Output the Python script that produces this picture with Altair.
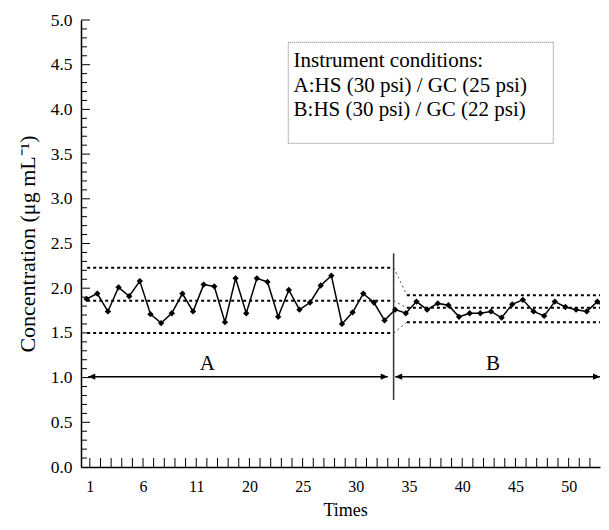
import json
import altair as alt
import pandas as pd

# ---------------- data ----------------
times = list(range(1, 51))
conc_a = [1.88, 1.94, 1.74, 2.01, 1.91, 2.08, 1.71, 1.61, 1.72, 1.94,
          1.74, 2.04, 2.02, 1.62, 2.11, 1.72, 2.11, 2.07, 1.68, 1.98,
          1.76, 1.84, 2.03, 2.14, 1.60, 1.73, 1.94, 1.84, 1.64]
conc_b = [1.76, 1.72, 1.85, 1.76, 1.83, 1.81, 1.68, 1.72, 1.72, 1.74,
          1.67, 1.82, 1.87, 1.74, 1.69, 1.85, 1.79, 1.76, 1.74, 1.85, 1.74]
concentration = conc_a + conc_b

limits_a = [2.23, 1.86, 1.50]   # UCL, CL, LCL for condition A
limits_b = [1.92, 1.78, 1.62]   # UCL, CL, LCL for condition B

x_tick_labels = ["1", "6", "11", "20", "25", "30", "35", "40", "45", "50"]
y_tick_values = [0.0, 0.5, 1.0, 1.5, 2.0, 2.5, 3.0, 3.5, 4.0, 4.5, 5.0]
legend_lines = ["Instrument conditions:",
                "A:HS (30 psi) / GC (25 psi)",
                "B:HS (30 psi) / GC (22 psi)"]
period_labels = ["A", "B"]

# ---------------- layout ----------------
FONT = "Liberation Serif"
W, H = 519, 447
PX_PER_UNIT = 10.64
XD = [0.47, 0.47 + W / PX_PER_UNIT]
xs = alt.Scale(domain=XD, nice=False, zero=False)
ys = alt.Scale(domain=[0, 5], nice=False, zero=False)

TICK_OFF = 0.3
label_pos = [1 + TICK_OFF + 5 * i for i in range(len(x_tick_labels))]
tick_pos = [k + TICK_OFF for k in range(1, 50) if k + TICK_OFF < XD[1]]
label_expr = f"{json.dumps(x_tick_labels)}[round((datum.value - {1 + TICK_OFF}) / 5)]"

x_axis = alt.Axis(values=label_pos, labelExpr=label_expr, title="Times",
                  ticks=False, tickSize=0, grid=False, domainColor="black",
                  domainWidth=1.5, labelFont=FONT, labelFontSize=16,
                  labelColor="black", labelPadding=11, labelFlush=False,
                  titleFont=FONT, titleFontSize=18, titleFontWeight="normal",
                  titleColor="black", titlePadding=7, titleX=(609 - 80.7) / 2)
y_axis = alt.Axis(values=y_tick_values, format=".1f",
                  title="Concentration (\u03bcg mL\u207b\u00b9)",
                  ticks=False, tickSize=0, grid=False, domainColor="black",
                  domainWidth=1.5, labelFont=FONT, labelFontSize=17.5,
                  labelColor="black", labelPadding=9, labelFlush=False,
                  titleFont=FONT, titleFontSize=22, titleFontWeight="normal",
                  titleColor="black", titlePadding=11)


def qx(f):
    return alt.X(f, type="quantitative", scale=xs, axis=x_axis)


def qy(f):
    return alt.Y(f, type="quantitative", scale=ys, axis=y_axis)


# main series
df = pd.DataFrame({"Times": times, "Concentration": concentration})
base = alt.Chart(df)
series_line = base.mark_line(color="black", strokeWidth=1.5, clip=True).encode(
    x=qx("Times"), y=qy("Concentration"))
series_pts = base.mark_point(shape="diamond", filled=True, color="black",
                             size=40, opacity=1, clip=True).encode(
    x=qx("Times"), y=qy("Concentration"))

# control limit lines
a_start, a_end, b_start = 1.05, 29.85, 31.1
seg = []
for v in limits_a:
    seg.append({"x": a_start, "x2": a_end, "y": v, "y2": v})
for v in limits_b:
    seg.append({"x": b_start, "x2": XD[1], "y": v, "y2": v})
limit_lines = alt.Chart(pd.DataFrame(seg)).mark_rule(
    color="black", strokeWidth=2, strokeDash=[3, 3]).encode(
    x=qx("x"), x2="x2:Q", y=qy("y"), y2="y2:Q")

trans = [{"x": a_end, "x2": b_start, "y": va, "y2": vb}
         for va, vb in zip(limits_a, limits_b)]
trans_lines = alt.Chart(pd.DataFrame(trans)).mark_rule(
    color="#555555", strokeWidth=1, strokeDash=[2, 3]).encode(
    x=qx("x"), x2="x2:Q", y=qy("y"), y2="y2:Q")

# divider between conditions
divider = alt.Chart(pd.DataFrame([{"x": a_end, "y": 0.75, "y2": 2.39}])).mark_rule(
    color="#333333", strokeWidth=1.5).encode(x=qx("x"), y=qy("y"), y2="y2:Q")

# period arrows
arrow_y = 1.01
arrows = pd.DataFrame([{"x": 1.15, "x2": 29.3, "y": arrow_y},
                       {"x": 30.0, "x2": XD[1], "y": arrow_y}])
arrow_lines = alt.Chart(arrows).mark_rule(color="black", strokeWidth=1.5).encode(
    x=qx("x"), x2="x2:Q", y=qy("y"))
left_heads = alt.Chart(arrows).mark_point(
    shape="M0,0L1,-0.45L1,0.45Z", filled=True, color="black", size=196,
    opacity=1).encode(x=qx("x"), y=qy("y"))
right_heads = alt.Chart(arrows).mark_point(
    shape="M0,0L-1,-0.45L-1,0.45Z", filled=True, color="black", size=196,
    opacity=1, clip=True).encode(x=qx("x2"), y=qy("y"))

period_text = alt.Chart(pd.DataFrame({"label": period_labels,
                                      "x": [12.35, 39.2], "y": [1.15, 1.15]})).mark_text(
    font=FONT, fontSize=21, color="black", baseline="middle").encode(
    x=qx("x"), y=qy("y"), text="label:N")

# legend box
box = alt.Chart(pd.DataFrame([{"x": 19.95, "x2": 44.86, "y": 4.75, "y2": 3.62}])).mark_rect(
    fill="white", stroke="#777777", strokeWidth=1, strokeDash=[1, 1]).encode(
    x=qx("x"), x2="x2:Q", y=qy("y"), y2="y2:Q")
legend_text = alt.Chart(pd.DataFrame({"t": legend_lines, "x": [20.45] * 3,
                                      "y": [4.54, 4.26, 3.99]})).mark_text(
    font=FONT, fontSize=21, color="black", align="left", baseline="middle").encode(
    x=qx("x"), y=qy("y"), text="t:N")

# inward ticks
xt = alt.Chart(pd.DataFrame({"t": tick_pos})).mark_rule(color="black", strokeWidth=1).encode(
    x=qx("t"), y=alt.value(H), y2=alt.value(H - 9))
minor_y = [round(0.1 * i, 1) for i in range(1, 51) if i % 5 != 0]
yt_minor = alt.Chart(pd.DataFrame({"v": minor_y})).mark_rule(color="black", strokeWidth=1).encode(
    y=qy("v"), x=alt.value(0), x2=alt.value(6))
yt_major = alt.Chart(pd.DataFrame({"v": y_tick_values[1:]})).mark_rule(color="black", strokeWidth=1).encode(
    y=qy("v"), x=alt.value(0), x2=alt.value(9))

chart = alt.layer(
    box, legend_text, limit_lines, trans_lines, divider, arrow_lines,
    left_heads, right_heads, period_text, xt, yt_minor, yt_major,
    series_line, series_pts,
).properties(
    width=W, height=H,
    padding={"left": 8, "top": 3, "right": 0, "bottom": 0},
    background="white",
).configure_view(stroke=None)

chart.save("out.html", embed_options={"renderer": "svg", "actions": False})
